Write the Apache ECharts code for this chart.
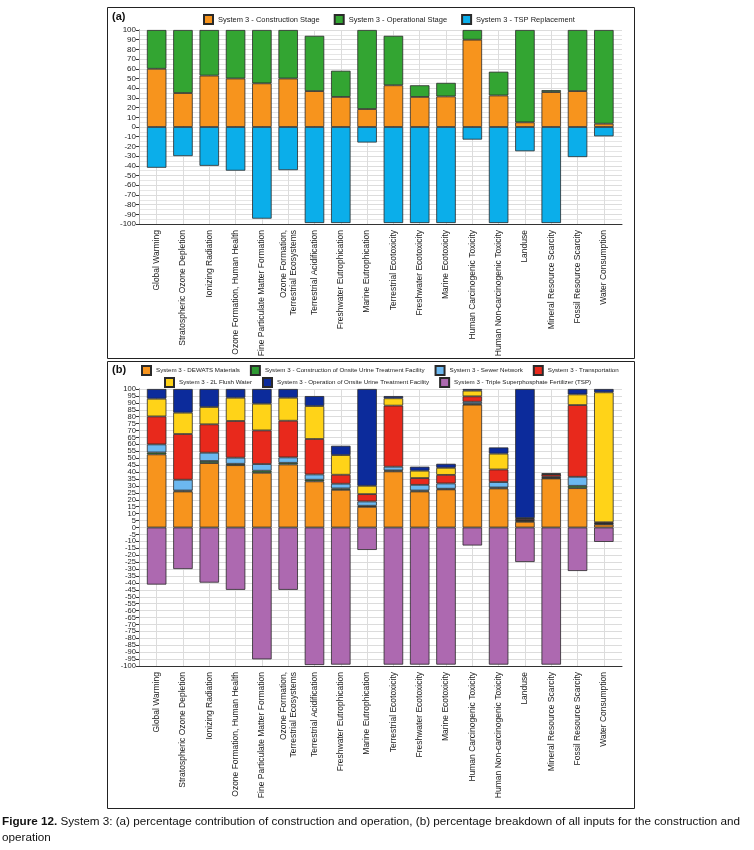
<!DOCTYPE html>
<html>
<head>
<meta charset="utf-8">
<script src="https://cdn.jsdelivr.net/npm/echarts@6/dist/echarts.min.js"></script>
<style>
html,body{margin:0;padding:0;background:#fff;}
#c{width:754px;height:850px;}
</style>
</head>
<body>
<div id="c"></div>
<script>
const categories = ['Global Warming','Stratospheric Ozone Depletion','Ionizing Radiation','Ozone Formation, Human Health','Fine Particulate Matter Formation','Ozone Formation,\nTerrestrial Ecosystems','Terrestrial Acidification','Freshwater Eutrophication','Marine Eutrophication','Terrestrial Ecotoxicity','Freshwater Ecotoxicity','Marine Ecotoxicity','Human Carcinogenic Toxicity','Human Non-carcinogenic Toxicity','Landuse','Mineral Resource Scarcity','Fossil Resource Scarcity','Water Consumption'];

// Chart (a)
const constructionA = [60,35,53,50,45,50,37,31,18.5,43,31,31.5,90,32.5,4.8,36,37,3.4];
const operationalA  = [40,65,47,50,55,50,57,27,81.5,51,12,14,10,24.5,95.2,2,63,96.6];
const tspA          = [-42,-30,-40,-45,-94.5,-44.5,-99,-99,-16,-99,-99,-99,-13,-99,-25,-99,-31,-9.6];

// Chart (b)
const dewats          = [52.8,26,46.5,45,39.5,45.5,33.3,27.2,14.9,40.5,26,27.5,88.7,28.2,4.1,35.4,28.4,2.2];
const constrOnsite    = [1.4,0.7,1.5,1,1.5,1.2,1.2,1,0.8,0.7,0.7,0.5,0.7,0.7,0.7,0.4,1.7,0.5];
const sewer           = [5.8,7.8,6,4.4,4.8,3.9,3.8,3.4,3.1,2.7,4.1,3.8,1.4,3.9,0.5,0.8,6.5,0.3];
const transport       = [20.2,33,20.5,26.5,24.3,26.5,25.6,6.5,5.3,44.1,4.9,6.2,3.9,9.1,1,1.6,51.8,0.8];
const flush           = [12.8,15.4,12.5,16.8,19.3,16.6,23.8,14.2,6,5.3,5.3,5.1,4.1,11.4,0.5,0.4,7.7,93.8];
const operationOnsite = [7,17.1,13,6.3,10.6,6.3,7.2,6.7,69.9,1.6,2.9,2.9,1.2,4.5,93.2,0.4,3.9,2.4];
const tspB            = [-41.2,-30,-39.8,-45,-95.2,-45,-99.3,-99,-16.2,-99,-99,-99,-13,-99,-24.9,-99,-31.4,-10.4];

// Tick settings
const yTicksA = {min:-100, max:100, interval:10};
const yTicksB = {min:-100, max:100, interval:10};
const yTicksBOdd = {min:-95, max:95, interval:10};

const FONT = 'Liberation Sans, Arial, sans-serif';
const GRIDC = '#dcdcdc';

// (b) plot geometry
const B_TOP = 389, B_H = 277;
const B_STEP = B_H / 200 * 5;

function frameX(gi, show){
  return {gridIndex:gi, type:'value', min:0, max:1, position:'bottom', show:show!==false,
    axisLine:{show:true, onZero:false, lineStyle:{color:'#333', width:1}},
    axisLabel:{show:false}, axisTick:{show:false}, splitLine:{show:false}};
}
function catX(gi){
  return {gridIndex:gi, type:'category', data:categories,
    axisLine:{show:false}, axisTick:{show:false},
    axisLabel:{rotate:90, fontSize:8.5, fontFamily:FONT, color:'#222', margin:6, interval:0, lineHeight:10},
    splitLine:{show:true, alignWithLabel:true, lineStyle:{color:GRIDC, width:1}}};
}
function valY(gi, t, fs, minorColor){
  return {gridIndex:gi, type:'value', min:t.min, max:t.max, interval:t.interval,
    axisLine:{show:true, onZero:false, lineStyle:{color:'#333', width:1}},
    axisTick:{show:true, length:3, lineStyle:{color:'#333'}},
    axisLabel:{fontSize:fs, fontFamily:FONT, color:'#222', margin:3, showMinLabel:true, showMaxLabel:true, hideOverlap:false},
    splitLine:{show:true, lineStyle:{color:GRIDC, width:1}},
    minorTick:{show:false, splitNumber:2},
    minorSplitLine:{show:true, lineStyle:{color:minorColor, width:1}}};
}
function labelOnlyY(gi, t, fs){
  return {gridIndex:gi, type:'value', min:t.min, max:t.max, interval:t.interval,
    axisLine:{show:false, onZero:false},
    axisTick:{show:true, length:3, lineStyle:{color:'#333'}},
    axisLabel:{fontSize:fs, fontFamily:FONT, color:'#222', margin:3, showMinLabel:true, showMaxLabel:true},
    splitLine:{show:false}};
}
function rightY(gi, t){
  return {gridIndex:gi, type:'value', min:t.min, max:t.max, position:'right',
    axisLine:{show:true, lineStyle:{color:'#aaa'}}, axisLabel:{show:false},
    axisTick:{show:false}, splitLine:{show:false}};
}
function hiddenY(gi, t){
  return {gridIndex:gi, type:'value', min:t.min, max:t.max, show:false, splitLine:{show:false}};
}

const BW = 19.5;
const BORDER = {borderColor:'#2a2a2a', borderWidth:0.8};
function bar(name, data, color, xi, yi, stack){
  return {name, type:'bar', data, stack, xAxisIndex:xi, yAxisIndex:yi, barWidth:BW,
    itemStyle:Object.assign({color}, BORDER), emphasis:{disabled:true}};
}

const legendTextA = {fontSize:7.5, fontFamily:FONT, color:'#222'};
const legendTextB = {fontSize:6.2, fontFamily:FONT, color:'#222'};

const option = {
  backgroundColor:'#fff',
  animation:false,
  textStyle:{fontFamily:FONT},
  grid:[
    {left:139, top:30, width:483, height:194},
    {left:143.5, top:30, width:473.5, height:194},
    {left:139, top:B_TOP, width:483, height:B_H},
    {left:143.5, top:B_TOP, width:473.5, height:B_H},
    {left:139, top:B_TOP + B_STEP, width:483, height:B_H - 2*B_STEP}
  ],
  xAxis:[frameX(0), catX(1), frameX(2), catX(3), frameX(4, false)],
  yAxis:[valY(0, yTicksA, 8, '#e6e6e6'), hiddenY(1, yTicksA), rightY(0, yTicksA),
         valY(2, yTicksB, 7.6, GRIDC), hiddenY(3, yTicksB), rightY(2, yTicksB),
         labelOnlyY(4, yTicksBOdd, 7.6)],
  legend:[
    {data:['System 3 - Construction Stage','System 3 - Operational Stage','System 3 - TSP Replacement'],
     left:203, top:14, itemWidth:9, itemHeight:9, itemGap:14, textStyle:legendTextA, icon:'rect', padding:0},
    {data:['System 3 - DEWATS Materials','System 3 - Construction of Onsite Urine Treatment Facility','System 3 - Sewer Network','System 3 - Transportation'],
     left:141, top:365, itemWidth:9, itemHeight:9, itemGap:10, textStyle:legendTextB, icon:'rect', padding:0},
    {data:['System 3 - 2L Flush Water','System 3 - Operation of Onsite Urine Treatment Facility','System 3 - Triple Superphosphate Fertilizer (TSP)'],
     left:164, top:377, itemWidth:9, itemHeight:9, itemGap:10, textStyle:legendTextB, icon:'rect', padding:0}
  ],
  graphic:[
    {type:'rect', shape:{x:107.5, y:7.5, width:527, height:351}, style:{fill:'none', stroke:'#222', lineWidth:1}, silent:true},
    {type:'rect', shape:{x:107.5, y:361.5, width:527, height:447}, style:{fill:'none', stroke:'#222', lineWidth:1}, silent:true},
    {type:'text', left:112, top:11, style:{text:'(a)', fontSize:11, fontWeight:'bold', fontFamily:FONT, fill:'#111'}},
    {type:'text', left:112, top:364, style:{text:'(b)', fontSize:11, fontWeight:'bold', fontFamily:FONT, fill:'#111'}},
    {type:'text', left:2, top:814, style:{
      text:'{b|Figure 12.} System 3: (a) percentage contribution of construction and operation, (b) percentage breakdown of all inputs for the construction and\noperation',
      fontSize:11.7, fontFamily:FONT, fill:'#111', lineHeight:16,
      rich:{b:{fontWeight:'bold', fontSize:11.7, fontFamily:FONT, fill:'#111'}}}}
  ],
  series:[
    bar('System 3 - Construction Stage', constructionA, '#F7941D', 1, 1, 'a'),
    bar('System 3 - Operational Stage', operationalA, '#33A532', 1, 1, 'a'),
    bar('System 3 - TSP Replacement', tspA, '#0BAEEA', 1, 1, 'a'),
    bar('System 3 - DEWATS Materials', dewats, '#F7941D', 3, 4, 'b'),
    bar('System 3 - Construction of Onsite Urine Treatment Facility', constrOnsite, '#2E9A32', 3, 4, 'b'),
    bar('System 3 - Sewer Network', sewer, '#6CB8F0', 3, 4, 'b'),
    bar('System 3 - Transportation', transport, '#E8291C', 3, 4, 'b'),
    bar('System 3 - 2L Flush Water', flush, '#FFD318', 3, 4, 'b'),
    bar('System 3 - Operation of Onsite Urine Treatment Facility', operationOnsite, '#0C2B9B', 3, 4, 'b'),
    bar('System 3 - Triple Superphosphate Fertilizer (TSP)', tspB, '#AD69B0', 3, 4, 'b')
  ]
};

const chart = echarts.init(document.getElementById('c'), null, {renderer:'canvas'});
chart.setOption(option);
</script>
</body>
</html>
